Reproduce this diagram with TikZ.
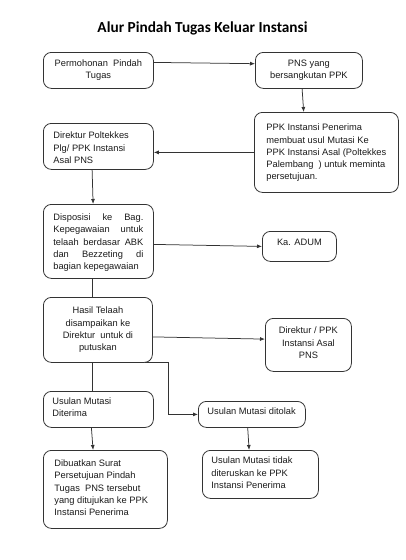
\documentclass[tikz,border=0pt]{standalone}
\usepackage{fontspec}
\setmainfont{Liberation Sans}
\newfontfamily\titlefont{Carlito}
\usetikzlibrary{arrows.meta}
\definecolor{linec}{HTML}{333333}
\definecolor{textc}{HTML}{1A1A1A}
% \cell{width}{height}{format}{first baseline}{text}
\newcommand{\cell}[5]{\parbox[c][#2][t]{#1}{#3\rule{0pt}{#4}#5}}
\newcommand{\fillline}[1]{\makebox[90pt][s]{#1}}
\tikzset{
  box/.style={draw=linec, line width=0.8pt, rounded corners=8pt, inner sep=0pt,
    anchor=north west, text=textc, font=\fontsize{9.3}{12.3}\selectfont},
  conn/.style={draw=linec, line width=0.75pt},
  arr/.style={conn, -{Latex[length=5pt,width=4pt]}},
}
\newcommand{\cc}{\centering}
\newcommand{\lf}[1]{\raggedright\leftskip=#1pt\relax}
\begin{document}
\begin{tikzpicture}[x=1pt,y=-1pt]
\useasboundingbox (0,0) rectangle (405,560);
\node[anchor=base, text=black, font=\titlefont\bfseries\fontsize{15.3}{18}\selectfont] (title) at (202.5,32) {Alur Pindah Tugas Keluar Instansi};

\node[box] (b1) at (43,52) {\cell{110pt}{36pt}{\cc}{13.7pt}{Permohonan\ \ Pindah\\Tugas}};
\node[box] (b2) at (255,52) {\cell{107pt}{36pt}{\cc}{14pt}{PNS yang\\bersangkutan PPK}};
\node[box] (b3) at (254,112) {\cell{144pt}{80pt}{\lf{12}}{18.3pt}{PPK Instansi Penerima\\membuat usul Mutasi Ke\\PPK Instansi Asal (Poltekkes\\Palembang\ \ ) untuk meminta\\persetujuan.}};
\node[box] (b4) at (43,123) {\cell{110pt}{46pt}{\lf{10}}{15.5pt}{Direktur Poltekkes\\Plg/ PPK Instansi\\Asal PNS}};
\node[box] (b5) at (43,204) {\cell{110pt}{74pt}{\lf{10}}{16pt}{\fillline{Disposisi ke Bag.}\\\fillline{Kepegawaian untuk}\\\fillline{telaah berdasar ABK}\\\fillline{dan Bezzeting di}\\bagian kepegawaian}};
\node[box] (b6) at (262,231) {\cell{74pt}{30pt}{\cc}{14pt}{Ka. ADUM}};
\node[box] (b7) at (43,297) {\cell{109pt}{65pt}{\cc}{16.3pt}{Hasil Telaah\\disampaikan ke\\Direktur\ \ untuk di\\putuskan}};
\node[box] (b8) at (265,318) {\cell{86pt}{53pt}{\cc}{15.5pt}{Direktur / PPK\\Instansi Asal\\PNS}};
\node[box] (b9) at (43,391) {\cell{110pt}{36pt}{\lf{9}}{13pt}{Usulan Mutasi\\Diterima}};
\node[box] (b10) at (198,401) {\cell{107pt}{26pt}{\lf{9}}{13.5pt}{Usulan Mutasi ditolak}};
\node[box] (b11) at (43,450) {\cell{124pt}{78pt}{\lf{11}}{16pt}{Dibuatkan Surat\\Persetujuan Pindah\\Tugas\ \ PNS tersebut\\yang ditujukan ke PPK\\Instansi Penerima}};
\node[box] (b12) at (202,450) {\cell{116pt}{48pt}{\lf{9}}{13.5pt}{Usulan Mutasi tidak\\diteruskan ke PPK\\Instansi Penerima}};

\draw[arr] ([yshift=8pt]b1.east) -- ([yshift=6.7pt]b2.west);
\draw[arr] ([xshift=-6.8pt]b2.south) -- ([xshift=-22.7pt]b3.north);
\draw[arr] (b3.west) -- ([yshift=-6pt]b4.east);
\draw[arr] ([xshift=-6.3pt]b4.south) -- ([xshift=-5.3pt]b5.north);
\draw[arr] ([yshift=-3pt]b5.east) -- (b6.west);
\draw[conn] ([xshift=-6.3pt]b5.south) -- ([xshift=-5.8pt]b7.north);
\draw[arr] ([yshift=-7pt]b7.east) -- ([yshift=5.8pt]b8.west);
\draw[arr] ([xshift=47.5pt]b7.south) -- ++(22.5,0) |- (b10.west);
\draw[conn] ([xshift=-5.8pt]b7.south) -- ([xshift=-6.3pt]b9.north);
\draw[arr] ([xshift=-7pt]b9.south) -- ([xshift=-12.3pt]b11.north);
\draw[arr] ([xshift=-4.2pt]b10.south) -- ([xshift=-11.3pt]b12.north);
\end{tikzpicture}
\end{document}
